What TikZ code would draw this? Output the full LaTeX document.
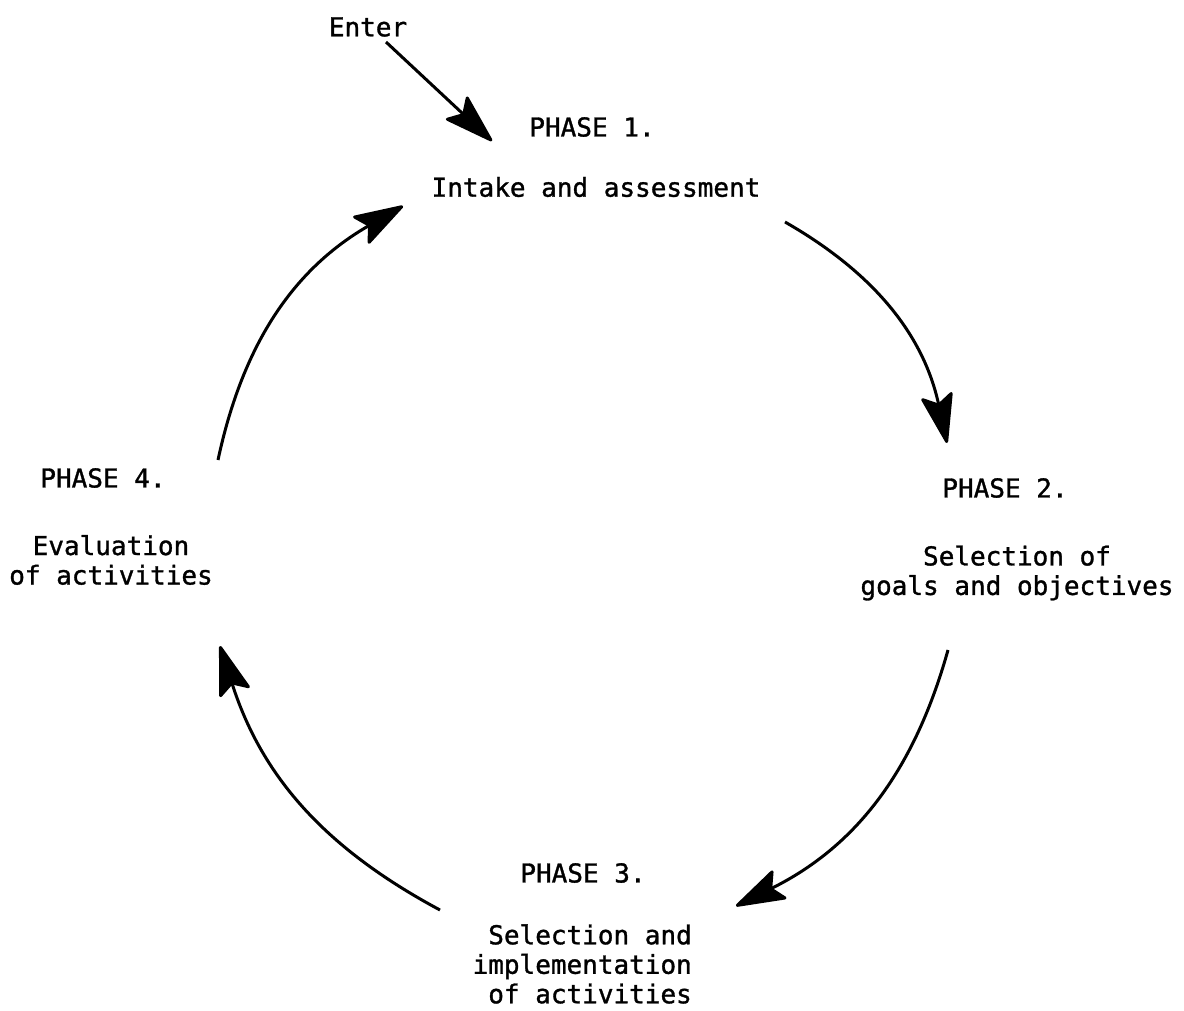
\documentclass[tikz,border=0pt]{standalone}
\usepackage{fontspec}
\newfontfamily\twfont[FakeBold=1.2]{DejaVu Sans Mono}
\usetikzlibrary{arrows.meta}
\begin{document}
\begin{tikzpicture}[x=1pt,y=1pt,
  lbl/.style={font=\twfont\fontsize{26}{29.5}\selectfont, inner sep=0pt},
  flow/.style={line width=3pt, -{Stealth[length=54pt,width=34pt,inset=10pt,round]}}]
\useasboundingbox (0,0) rectangle (1184,-1011);
\node[lbl] (enter) at (368,-27) {Enter};
\node[lbl] (h1) at (592,-127) {PHASE 1.};
\node[lbl] (d1) at (596,-187) {Intake and assessment};
\node[lbl] (h2) at (1005,-488) {PHASE 2.};
\node[lbl, align=center] (d2) at (1017,-573) {Selection of\\goals and objectives};
\node[lbl] (h3) at (583,-873) {PHASE 3.};
\node[lbl, align=right, anchor=east] (d3) at (692,-964) {Selection and\\implementation\\of activities};
\node[lbl] (h4) at (103,-478) {PHASE 4.};
\node[lbl, align=center] (d4) at (111,-560) {Evaluation\\of activities};
\coordinate (e0) at (386,-42);
\coordinate (e1) at (492,-141);
\coordinate (a1) at (785,-222);
\coordinate (b1) at (947,-443);
\coordinate (a2) at (948,-650);
\coordinate (b2) at (736,-906);
\coordinate (a3) at (440,-910);
\coordinate (b3) at (220,-646);
\coordinate (a4) at (218,-460);
\coordinate (b4) at (403,-206);
\draw[flow] (e0) -- (e1);
\draw[flow] (a1) to[bend left=24] (b1);
\draw[flow] (a2) to[bend left=24] (b2);
\draw[flow] (a3) to[bend left=22] (b3);
\draw[flow] (a4) to[bend left=24] (b4);
\end{tikzpicture}
\end{document}
